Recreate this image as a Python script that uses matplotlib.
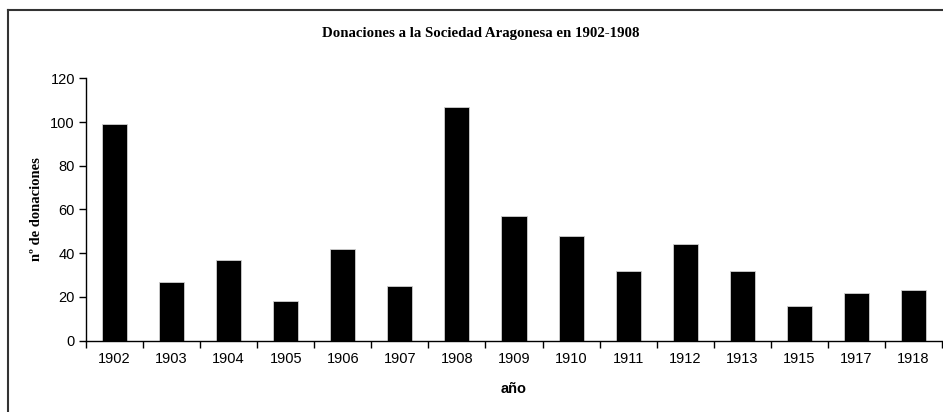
import matplotlib
matplotlib.use("Agg")
import matplotlib.pyplot as plt
from matplotlib.lines import Line2D

years = ["1902", "1903", "1904", "1905", "1906", "1907", "1908", "1909",
         "1910", "1911", "1912", "1913", "1915", "1917", "1918"]
donaciones = [99, 27, 37, 18, 42, 25, 107, 57, 48, 32, 44, 32, 16, 22, 23]

W, H = 943, 412
fig = plt.figure(figsize=(W / 100, H / 100), dpi=100)
ax = fig.add_axes([86 / W, 1 - 340.7 / H, 856 / W, (340.7 - 78.3) / H])

x = list(range(len(years)))
ax.bar(x, donaciones, width=0.44, color="black", edgecolor="#d0d0d0", linewidth=0.6)

ax.set_xlim(-0.5, len(years) - 0.5)
ax.set_ylim(0, 120)
ax.set_yticks(range(0, 121, 20))
ax.set_xticks(x)
ax.set_xticklabels(years)
ax.set_xticks([i - 0.5 for i in range(len(years) + 1)], minor=True)
ax.tick_params(axis="x", which="major", length=0, pad=8)
ax.tick_params(axis="x", which="minor", length=5, width=1, direction="out")
ax.tick_params(axis="y", length=5, width=1, direction="out", pad=3)
for lab in ax.get_xticklabels() + ax.get_yticklabels():
    lab.set_family("Liberation Sans")
    lab.set_fontsize(10.5)

for s in ["top", "right"]:
    ax.spines[s].set_visible(False)
for s in ["left", "bottom"]:
    ax.spines[s].set_linewidth(1)
    ax.spines[s].set_color("black")

ax.set_xlabel("año", family="Liberation Sans", fontweight="bold", fontsize=10.5, labelpad=12)
ax.set_ylabel("nº de donaciones", family="Liberation Serif", fontweight="bold", fontsize=10.5, labelpad=5)

fig.text(481 / W, 1 - 33 / H, "Donaciones a la Sociedad Aragonesa en 1902-1908",
         family="Liberation Serif", fontweight="bold", fontsize=10.7,
         ha="center", va="center")

# outer chart frame (top and left visible)
fig.add_artist(Line2D([8 / W, 1.0], [1 - 10 / H, 1 - 10 / H], transform=fig.transFigure,
                      color="#333333", linewidth=1.5))
fig.add_artist(Line2D([8 / W, 8 / W], [0, 1 - 10 / H], transform=fig.transFigure,
                      color="#333333", linewidth=1.5))

fig.savefig("out.png", dpi=100)
